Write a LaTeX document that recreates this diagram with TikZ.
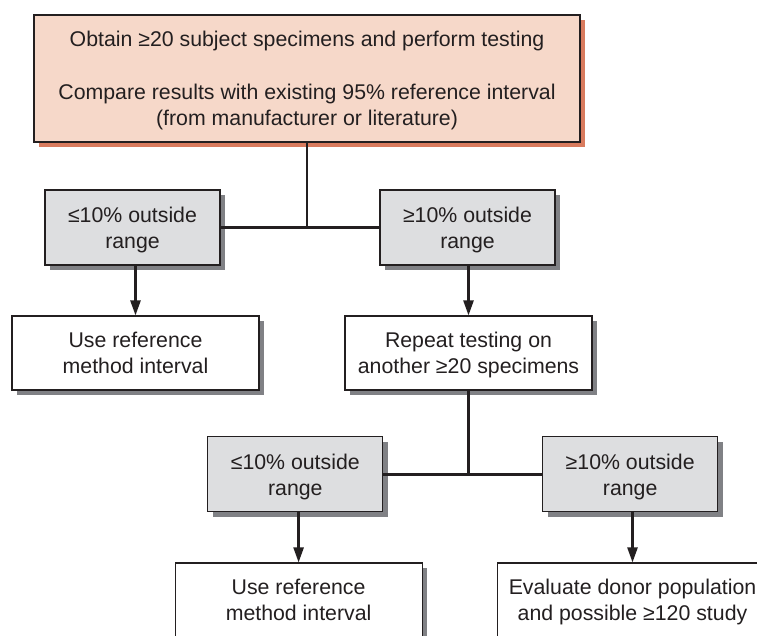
\documentclass[tikz,border=0pt]{standalone}
\usepackage{fontspec}
\setmainfont{Liberation Sans}
\usetikzlibrary{arrows.meta,shadows}
\definecolor{peach}{RGB}{246,216,201}
\definecolor{peachshadow}{RGB}{217,123,94}
\definecolor{boxgrey}{RGB}{221,222,224}
\definecolor{shadowgrey}{RGB}{128,129,133}
\definecolor{linedark}{RGB}{35,31,32}

\begin{document}
\begin{tikzpicture}[x=1pt, y=-1pt,
  every node/.style={font=\fontsize{21.3}{26}\selectfont, text=linedark},
  basebox/.style={draw=linedark, line width=1.1pt, align=center, inner sep=0pt, text depth=-3.5pt},
  startbox/.style={basebox, fill=peach, minimum width=546pt, minimum height=127pt,
    drop shadow={shadow xshift=5pt, shadow yshift=-5pt, fill=peachshadow, opacity=1}},
  condbox/.style={basebox, fill=boxgrey, minimum width=175pt, minimum height=75pt,
    drop shadow={shadow xshift=5pt, shadow yshift=-5pt, fill=shadowgrey, opacity=1}},
  actbox/.style={basebox, fill=white, minimum width=247pt, minimum height=74pt,
    drop shadow={shadow xshift=5pt, shadow yshift=-5pt, fill=shadowgrey, opacity=1}},
  link/.style={draw=linedark, line width=2.4pt},
  flow/.style={link, -{Triangle[length=15pt,width=10pt]}}]
  \clip (0,0) rectangle (757,636);
  % first test
  \node[startbox] (obtain) at (307,78.5) {Obtain ≥20 subject specimens and perform testing\\[27pt]
    Compare results with existing 95\% reference interval\\(from manufacturer or literature)};
  \node[condbox] (lowA) at (132.5,227.5) {≤10\% outside\\range};
  \node[condbox] (highA) at (467.5,227.5) {≥10\% outside\\range};
  \node[actbox] (useA) at (135.5,353) {Use reference\\method interval};
  \node[actbox] (repeat) at (468.5,353) {Repeat testing on\\another ≥20 specimens};
  \draw[link] (lowA) -- (highA);
  \draw[link] (obtain) -- (obtain |- lowA);
  \draw[flow] (useA.north |- lowA.south) -- (useA);
  \draw[flow] (repeat.north |- highA.south) -- (repeat);
  % second test
  \node[condbox] (lowB) at (295.3,474.3) {≤10\% outside\\range};
  \node[condbox] (highB) at (630.2,474.3) {≥10\% outside\\range};
  \node[actbox] (useB) at (298.6,600) {Use reference\\method interval};
  \node[actbox, minimum width=270pt] (evaluate) at (632.5,600) {Evaluate donor population\\and possible ≥120 study};
  \draw[link] (lowB) -- (highB);
  \draw[link] (repeat) -- (repeat |- lowB);
  \draw[flow] (useB.north |- lowB.south) -- (useB);
  \draw[flow] (evaluate.north |- highB.south) -- (evaluate);
\end{tikzpicture}
\end{document}
